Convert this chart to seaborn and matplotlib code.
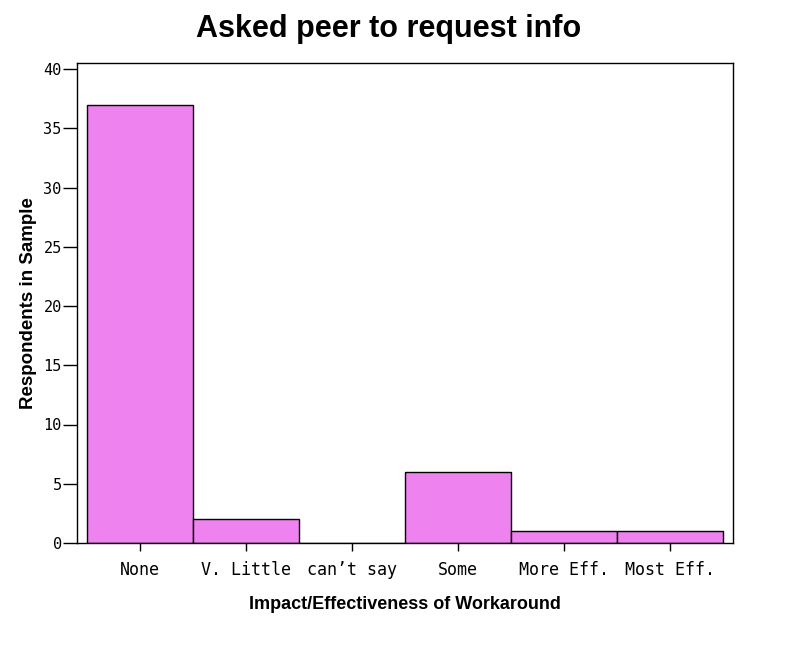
import matplotlib
matplotlib.use("Agg")
import matplotlib.pyplot as plt
import seaborn as sns
import pandas as pd

categories = ["None", "V. Little", "can\u2019t say", "Some", "More Eff.", "Most Eff."]
counts = [37, 2, 0, 6, 1, 1]
yticks = [0, 5, 10, 15, 20, 25, 30, 35, 40]

df = pd.DataFrame({"cat": categories, "n": counts})

sns.set_theme(style="white")
plt.rcParams["font.family"] = ["Liberation Sans", "DejaVu Sans"]
plt.rcParams.update({"text.color": "black", "axes.labelcolor": "black",
                     "xtick.color": "black", "ytick.color": "black"})

fig = plt.figure(figsize=(7.9, 6.45), dpi=100)
ax = fig.add_axes([77/790, 1-543/645, (733-77)/790, (543-63)/645])

sns.barplot(data=df, x="cat", y="n", order=categories, color="#EE82EE",
            saturation=1, width=1.0, edgecolor="black", linewidth=1.0, ax=ax)

ax.set_xlim(-0.5 - 10/106, 5.5 + 10/106)
ax.set_ylim(0, 40 + 6/11.85)
ax.set_yticks(yticks)
ax.set_yticklabels([str(v) for v in yticks], family="DejaVu Sans Mono", fontsize=11)
ax.set_xticks(range(len(categories)))
ax.set_xticklabels(categories, family="DejaVu Sans Mono", fontsize=12)
ax.tick_params(axis="y", direction="out", length=10, width=1, color="black", pad=1, left=True)
ax.tick_params(axis="x", direction="out", length=6, width=1, color="black", pad=7, bottom=True)

for s in ax.spines.values():
    s.set_color("black")
    s.set_linewidth(1.0)

ax.set_xlabel("Impact/Effectiveness of Workaround", fontsize=13, fontweight="bold", labelpad=12)
ax.set_ylabel("Respondents in Sample", fontsize=13.5, fontweight="bold", labelpad=5)
fig.text(389/790, 1-29/645, "Asked peer to request info", ha="center", va="center",
         fontsize=22, fontweight="bold")

fig.savefig("out.png", dpi=100)
